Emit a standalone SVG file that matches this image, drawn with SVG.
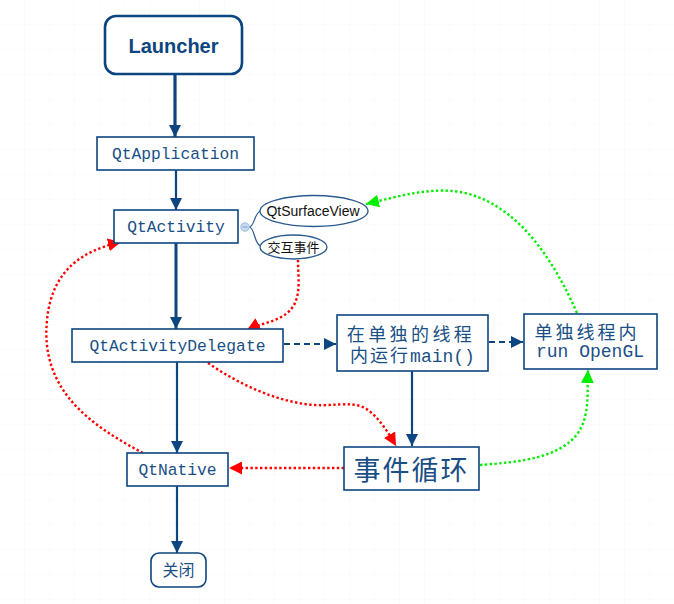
<svg xmlns="http://www.w3.org/2000/svg" width="674" height="604" viewBox="0 0 674 604">
<defs>
<pattern id="grid" width="25" height="25" patternUnits="userSpaceOnUse">
<path d="M25 0V25M0 25H25" fill="none" stroke="#f3f6f9" stroke-width="1"/>
</pattern>
<marker id="ab" markerWidth="12" markerHeight="12" refX="10" refY="5" orient="auto" markerUnits="userSpaceOnUse" viewBox="0 0 10 10">
<path d="M0 0L10 5L0 10z" fill="#0d4580"/>
</marker>
<marker id="ar" markerWidth="13" markerHeight="13" refX="10" refY="5" orient="auto" markerUnits="userSpaceOnUse" viewBox="0 0 10 10">
<path d="M0 0L10 5L0 10z" fill="#ff0000"/>
</marker>
<marker id="ag" markerWidth="13" markerHeight="13" refX="10" refY="5" orient="auto" markerUnits="userSpaceOnUse" viewBox="0 0 10 10">
<path d="M0 0L10 5L0 10z" fill="#00ee00"/>
</marker>
<style>
.box{fill:#fff;stroke:#0d4580;stroke-width:1.6}
.mono{font-family:"Liberation Mono","Noto Sans CJK SC",monospace;fill:#1a4f86;text-anchor:middle}
.sans{font-family:"Liberation Sans","Noto Sans CJK SC",sans-serif;fill:#111;text-anchor:middle}
.ell{fill:#fff;stroke:#2a5a90;stroke-width:1.3}
.solid{fill:none;stroke:#0d4580;stroke-width:2.2;marker-end:url(#ab)}
.dash{fill:none;stroke:#0d4580;stroke-width:2.2;stroke-dasharray:6 4;marker-end:url(#ab)}
.red{fill:none;stroke:#ff0000;stroke-width:2.4;stroke-dasharray:2.4 2.4;marker-end:url(#ar)}
.green{fill:none;stroke:#00ee00;stroke-width:2.4;stroke-dasharray:2.4 2.4;marker-end:url(#ag)}
</style>
</defs>
<rect width="674" height="604" fill="#fff"/>
<rect width="674" height="604" fill="url(#grid)"/>

<g id="connectors">
<path class="solid" d="M175 74V137" style="stroke-width:3.2"/>
<path class="solid" d="M176 170V210"/>
<path class="solid" d="M176 243V329" style="stroke-width:3"/>
<path class="solid" d="M177 362V453"/>
<path class="solid" d="M177 486V553"/>
<path class="dash" d="M284 344H336"/>
<path class="dash" d="M489 342H523"/>
<path class="solid" d="M412 371V446"/>
<path d="M249 227C255 227 254 212 261 211M249 227C255 227 254 245 261 246" fill="none" stroke="#2a5a90" stroke-width="1.2"/>
<path class="red" d="M298 260C298 275 301 292 294 305C284 322 262 322 247 330"/>
<path class="red" d="M208 363C240 385 275 400 305 404C330 408 350 400 365 408C378 416 388 432 396 446"/>
<path class="red" d="M344 468H229"/>
<path class="red" d="M143 453C90 425 40 390 47 320C52 268 85 250 121 242"/>
<path class="green" d="M480 465C520 462 560 458 578 433C590 415 587 392 588 370"/>
<path class="green" d="M577 313C545 240 505 200 460 192C430 187 400 196 366 204"/>
</g>

<g id="launcher">
<rect x="105" y="16" width="137" height="58" rx="11" fill="#fff" stroke="#0d4580" stroke-width="2.6"/>
<text x="173.5" y="53" style="font-family:'Liberation Sans',sans-serif;font-weight:bold;font-size:20px;fill:#0d4580;text-anchor:middle">Launcher</text>
</g>
<g id="qtapplication">
<rect class="box" x="97" y="137" width="157" height="33"/>
<text class="mono" x="175.5" y="159" font-size="16.3">QtApplication</text>
</g>
<g id="qtactivity">
<rect class="box" x="114" y="210" width="124" height="33"/>
<text class="mono" x="176" y="232" font-size="16.3">QtActivity</text>
<circle cx="245" cy="227" r="4.2" fill="#c9dcf2" stroke="#9dbbe2" stroke-width="1"/>
<path d="M242.5 227H247.5" stroke="#7d9ccc" stroke-width="1"/>
</g>
<g id="qtsurfaceview">
<ellipse class="ell" cx="314" cy="211" rx="54" ry="15.5"/>
<text class="sans" x="313" y="216" font-size="14">QtSurfaceView</text>
</g>
<g id="interaction">
<ellipse class="ell" cx="293.5" cy="247" rx="33.5" ry="12"/>
<text class="sans" x="293.5" y="252" font-size="13">交互事件</text>
</g>
<g id="qtactivitydelegate">
<rect class="box" x="72" y="329" width="211" height="33"/>
<text class="mono" x="177.5" y="351" font-size="16.3">QtActivityDelegate</text>
</g>
<g id="mainthread">
<rect class="box" x="337" y="315" width="151" height="56"/>
<text class="mono" x="411" y="341" font-size="18" letter-spacing="3.4">在单独的线程</text>
<text class="mono" x="412.5" y="362" font-size="18"><tspan letter-spacing="2">内运行</tspan>main()</text>
</g>
<g id="opengl">
<rect class="box" x="524" y="314" width="133" height="55"/>
<text class="mono" x="587" y="339" font-size="18" letter-spacing="3">单独线程内</text>
<text class="mono" x="590" y="357" font-size="18">run OpenGL</text>
</g>
<g id="eventloop">
<rect class="box" x="344" y="447" width="135" height="43"/>
<text class="mono" x="411.5" y="480" font-size="27" letter-spacing="2">事件循环</text>
</g>
<g id="qtnative">
<rect class="box" x="127" y="453" width="101" height="33"/>
<text class="mono" x="177.5" y="475" font-size="16.3">QtNative</text>
</g>
<g id="close">
<rect class="box" x="151" y="553" width="55" height="34" rx="8"/>
<text class="mono" x="178.5" y="576" font-size="16">关闭</text>
</g>
</svg>
